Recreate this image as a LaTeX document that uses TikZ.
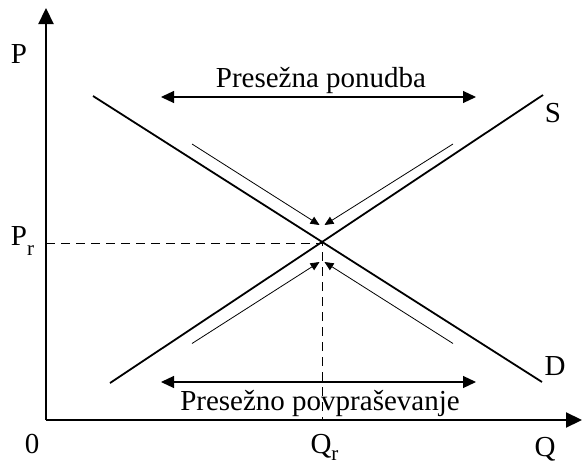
\documentclass[tikz,border=0pt]{standalone}
\usepackage{fontspec}
\setmainfont{Liberation Serif}
\usetikzlibrary{arrows.meta}
\newcommand{\lowsub}[2][-10pt]{\raisebox{#1}{\fontsize{21}{21}\selectfont #2}}
\begin{document}
\begin{tikzpicture}[x=1pt,y=-1pt,
  axis/.style={line width=2.2pt,-{Triangle[length=16pt,width=15pt]}},
  curve/.style={line width=1.8pt},
  hint/.style={line width=0.8pt,-{Triangle[length=9pt,width=8pt]}},
  spanarrow/.style={line width=1.2pt,{Triangle[length=13pt,width=12pt]}-{Triangle[length=13pt,width=12pt]}},
  guide/.style={line width=0.9pt,dash pattern=on 9pt off 6pt},
  lbl/.style={font=\fontsize{29}{34}\selectfont,inner sep=0pt,anchor=base}]
\useasboundingbox (0,0) rectangle (582,466);
% axes
\coordinate (O) at (46,420);
\coordinate (Ytop) at (46,8);
\coordinate (Xend) at (582,420);
\draw[axis] (O) -- (Ytop);
\draw[axis] (O) -- (Xend);
% equilibrium
\coordinate (E) at (322,243);
\coordinate (Py) at (46,243);
\coordinate (Qx) at (322,420);
\draw[guide] (Py) -- (E) -- (Qx);
% demand and supply
\coordinate (D1) at (93,96);
\coordinate (D2) at (542,382);
\coordinate (S1) at (110,383);
\coordinate (S2) at (543,95);
\draw[curve] (D1) -- (D2);
\draw[curve] (S1) -- (S2);
% hint arrows
\coordinate (h1) at (192,144);
\coordinate (h1e) at (319.5,225);
\coordinate (h2) at (453,144);
\coordinate (h2e) at (324.5,225);
\coordinate (h3) at (192,343.5);
\coordinate (h3e) at (319.5,262);
\coordinate (h4) at (453,343.5);
\coordinate (h4e) at (324.5,262);
\draw[hint] (h1) -- (h1e);
\draw[hint] (h2) -- (h2e);
\draw[hint] (h3) -- (h3e);
\draw[hint] (h4) -- (h4e);
% ranges
\coordinate (t1) at (161,97);
\coordinate (t2) at (476,97);
\coordinate (b1) at (161,382);
\coordinate (b2) at (476,382);
\draw[spanarrow] (t1) -- (t2);
\draw[spanarrow] (b1) -- (b2);
\node[lbl] (tlab) at (321,87) {Presežna ponudba};
\node[lbl] (blab) at (320,410) {Presežno povpraševanje};
% labels
\node[lbl] (P) at (19,63) {P};
\node[lbl] (Pr) at (22.5,245) {P\lowsub{r}};
\node[lbl] (zero) at (32,453) {0};
\node[lbl] (Qr) at (324.5,453) {Q\lowsub[-7pt]{r}};
\node[lbl] (Q) at (545,456) {Q};
\node[lbl] (S) at (553,122) {S};
\node[lbl] (D) at (555,375) {D};
\end{tikzpicture}
\end{document}
